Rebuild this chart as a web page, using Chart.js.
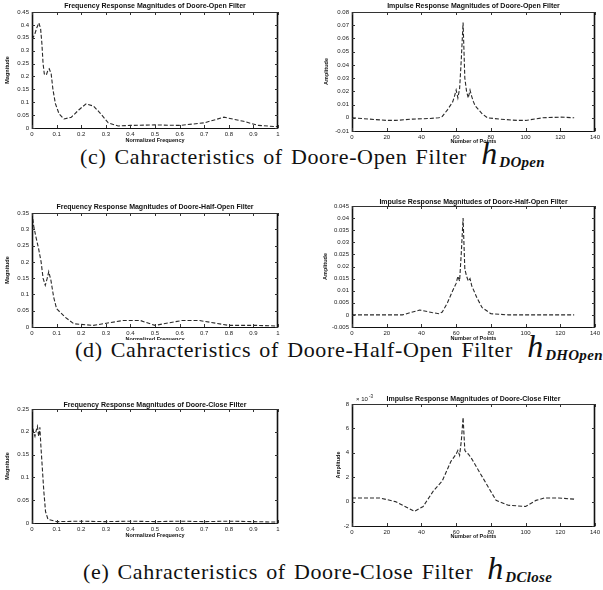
<!DOCTYPE html>
<html><head><meta charset="utf-8">
<script src="https://cdn.jsdelivr.net/npm/chart.js@4"></script>
<style>
body{margin:0;background:#fff;width:603px;height:590px;position:relative;overflow:hidden}
canvas{position:absolute}
.cap{position:absolute;font-family:"Liberation Serif",serif;font-size:22px;letter-spacing:0.65px;word-spacing:2px;color:#111;white-space:nowrap;line-height:24px;height:24px}
.cap .h{font-style:italic;font-size:32px;margin-left:6px;line-height:0;letter-spacing:0}
.cap .s{font-style:italic;font-weight:bold;font-size:15px;position:relative;top:3px;margin-left:2px;line-height:0;letter-spacing:0.3px}
</style></head><body>
<div class="cap" id="capC" style="left:80px;top:145px">(c) Cahracteristics of Doore-Open Filter <span class="h">h</span><span class="s">DOpen</span></div>
<div class="cap" id="capD" style="left:75px;top:338px">(d) Cahracteristics of Doore-Half-Open Filter <span class="h">h</span><span class="s">DHOpen</span></div>
<div class="cap" id="capE" style="left:83px;top:560px">(e) Cahracteristics of Doore-Close Filter <span class="h">h</span><span class="s">DClose</span></div>
<script>
// ---------- data ----------
// (c) Doore-Open : frequency response magnitude
const freqC = [0,0.01,0.02,0.028,0.035,0.04,0.045,0.05,0.058,0.065,0.07,0.078,0.085,0.095,0.11,0.13,0.16,0.19,0.22,0.25,0.275,0.31,0.35,0.4,0.5,0.6,0.7,0.78,0.86,0.92,1.0];
const magC  = [0.345,0.36,0.39,0.408,0.385,0.33,0.25,0.21,0.205,0.225,0.23,0.21,0.15,0.095,0.055,0.035,0.042,0.07,0.094,0.085,0.06,0.02,0.008,0.01,0.012,0.01,0.02,0.042,0.026,0.01,0.005];
// (c) impulse response
const idxC = [0,10,20,25,35,45,50,52,55,58,59,60,61,62,63,64,65,66,67,68,69,70,71,73,75,78,85,95,100,110,120,128];
const ampC = [0,-0.001,-0.002,-0.002,-0.001,-0.0005,0,0.001,0.006,0.012,0.016,0.021,0.015,0.022,0.045,0.072,0.03,0.02,0.015,0.021,0.016,0.012,0.009,0.006,0.003,0,-0.001,-0.002,-0.002,0,0.0005,0];
// (d) Doore-Half-Open
const freqD = [0,0.007,0.015,0.027,0.037,0.045,0.054,0.062,0.068,0.077,0.088,0.1,0.135,0.17,0.25,0.37,0.44,0.5,0.61,0.68,0.8,0.91,1.0];
const magD  = [0.35,0.31,0.28,0.24,0.2,0.15,0.128,0.15,0.17,0.143,0.092,0.056,0.03,0.01,0.005,0.02,0.02,0.005,0.02,0.02,0.005,0.005,0.003];
const idxD = [0,10,17,29,39,46,50,52,55,58,60,61,62,63,64,65,66,67,68,69,72,75,80,90,100,113,128];
const ampD = [0,0,0,0,0.002,0.001,0.0005,0.0012,0.005,0.01,0.013,0.016,0.014,0.026,0.04,0.019,0.016,0.014,0.015,0.012,0.007,0.003,0.0005,0,0,0,0];
// (e) Doore-Close
const freqE = [0,0.006,0.012,0.018,0.022,0.027,0.032,0.036,0.042,0.048,0.055,0.065,0.1,0.2,0.3,0.4,0.5,0.6,0.7,0.8,0.9,1.0];
const magE  = [0.22,0.2,0.19,0.205,0.212,0.19,0.21,0.17,0.12,0.07,0.025,0.008,0.003,0.004,0.003,0.004,0.003,0.004,0.003,0.004,0.003,0.002];
const idxE = [0,8,16,25,36,41,47,52,57,60,61,62,63,64,65,66,67,69,76,83,90,100,106,111,119,128];
const ampE = [0.3,0.3,0.3,0,-0.8,-0.4,0.9,1.7,3.3,3.9,4.2,3.8,5.0,6.9,4.2,4.0,3.9,3.5,1.8,0.1,-0.3,-0.4,0.1,0.3,0.3,0.2]; // x 10^-3
// axis ranges [min,max,step]
const freqAxis = [0,1,0.1];
const pointAxis = [0,140,20];
const yAxisC = [0,0.45,0.05], yAxisCi = [-0.01,0.08,0.01];
const yAxisD = [0,0.35,0.05], yAxisDi = [-0.005,0.045,0.005];
const yAxisE = [0,0.25,0.05], yAxisEi = [-2,8,2];
const titles = ['Frequency Response Magnitudes of Doore-Open Filter','Impulse Response Magnitudes of Doore-Open Filter',
  'Frequency Response Magnitudes of Doore-Half-Open Filter','Impulse Response Magnitudes of Doore-Half-Open Filter',
  'Frequency Response Magnitudes of Doore-Close Filter','Impulse Response Magnitudes of Doore-Close Filter'];

const fmt = v => String(+(+v).toFixed(4));
const FONT = '"Liberation Sans", Arial, sans-serif';

const frame = {
  id:'frame',
  afterDraw(chart, args, o){
    const {ctx, chartArea:a, scales:{x,y}} = chart;
    const ln=(x1,y1,x2,y2)=>{ctx.beginPath();ctx.moveTo(x1,y1);ctx.lineTo(x2,y2);ctx.stroke();};
    ctx.save();
    ctx.strokeStyle='#333'; ctx.lineWidth=1;
    ctx.strokeRect(a.left+0.5,a.top+0.5,a.right-a.left-1,a.bottom-a.top);
    ctx.strokeStyle='#111'; ctx.lineWidth=1.6;
    ln(a.left+0.5,a.top,a.left+0.5,a.bottom+1);
    ln(a.right-0.5,a.top,a.right-0.5,a.bottom+1);
    ctx.lineWidth=1.2; ln(a.left,a.bottom+0.5,a.right,a.bottom+0.5);
    ctx.lineWidth=1; ctx.strokeStyle='#333';
    x.ticks.forEach(t=>{const p=Math.round(x.getPixelForValue(t.value))+0.5; ln(p,a.bottom,p,a.bottom-3); ln(p,a.top,p,a.top+3);});
    y.ticks.forEach(t=>{const p=Math.round(y.getPixelForValue(t.value))+0.5; ln(a.left,p,a.left+3,p); ln(a.right,p,a.right-3,p);});
    ctx.fillStyle='#111'; ctx.textAlign='center'; ctx.textBaseline='middle';
    ctx.font='bold 7px '+FONT;
    ctx.fillText(o.title,(a.left+a.right)/2,a.top-o.tdy);
    ctx.font='bold 5.5px '+FONT;
    ctx.fillText(o.xl,(a.left+a.right)/2,a.bottom+o.xdy);
    ctx.save(); ctx.translate(o.ylx,(a.top+a.bottom)/2); ctx.rotate(-Math.PI/2);
    ctx.fillText(o.yl,0,0); ctx.restore();
    if(o.exp){ ctx.font='6px '+FONT; ctx.textAlign='left';
      ctx.fillText('\u00d7 10',a.left+4,a.top-5); ctx.font='4.5px '+FONT; ctx.fillText('-3',a.left+17,a.top-7); }
    ctx.restore();
  }
};

function make(o){
  const c=document.createElement('canvas');
  c.width=o.w; c.height=o.h;
  c.style.left=o.left+'px'; c.style.top=o.top+'px';
  c.style.width=o.w+'px'; c.style.height=o.h+'px';
  document.body.appendChild(c);
  const axis=(r,extra)=>Object.assign({type:'linear',min:r[0],max:r[1],
    ticks:{stepSize:r[2],font:{size:6,family:FONT},color:'#222',padding:3,callback:fmt,maxRotation:0,autoSkip:false},
    grid:{display:false,drawTicks:false},border:{display:false}},extra);
  new Chart(c,{
    type:'line',
    data:{datasets:[{data:o.xs.map((v,i)=>({x:v,y:o.ys[i]})),borderColor:'#2a2a2a',borderWidth:1.1,borderDash:[4,2],pointRadius:0,tension:0}]},
    options:{responsive:false,animation:false,devicePixelRatio:1,
      layout:{padding:{left:0,top:o.a[1],right:o.w-o.a[2],bottom:0}},
      plugins:{legend:{display:false},tooltip:{enabled:false},
        frame:{title:o.title,tdy:o.tdy,xl:o.xl,xdy:o.xdy,yl:o.yl,ylx:o.ylx,exp:o.exp}},
      scales:{
        x:axis(o.xr,{afterFit(s){s.height=o.h-o.a[3];}}),
        y:axis(o.yr,{afterFit(s){s.width=o.a[0];}})
      }},
    plugins:[frame]
  });
}

make({left:0,top:0,w:300,h:150,a:[32,12,278,128],xs:freqC,ys:magC,xr:freqAxis,yr:yAxisC,title:titles[0],tdy:6,xl:'Normalized Frequency',xdy:12,yl:'Magnitude',ylx:7});
make({left:300,top:0,w:303,h:150,a:[52,12,298,131],xs:idxC,ys:ampC,xr:pointAxis,yr:yAxisCi,title:titles[1],tdy:6,xl:'Number of Points',xdy:10,yl:'Amplitude',ylx:26});
make({left:0,top:195,w:300,h:145,a:[32,18,278,132],xs:freqD,ys:magD,xr:freqAxis,yr:yAxisD,title:titles[2],tdy:6,xl:'Normalized Frequency',xdy:12,yl:'Magnitude',ylx:7});
make({left:300,top:195,w:303,h:145,a:[52,11,298,132],xs:idxD,ys:ampD,xr:pointAxis,yr:yAxisDi,title:titles[3],tdy:4,xl:'Number of Points',xdy:11,yl:'Amplitude',ylx:25});
make({left:0,top:392,w:300,h:150,a:[32,17,278,131],xs:freqE,ys:magE,xr:freqAxis,yr:yAxisE,title:titles[4],tdy:4,xl:'Normalized Frequency',xdy:12,yl:'Magnitude',ylx:7});
make({left:300,top:392,w:303,h:150,a:[52,12,298,134],xs:idxE,ys:ampE,xr:pointAxis,yr:yAxisEi,title:titles[5],tdy:5,xl:'Number of Points',xdy:10,yl:'Amplitude',ylx:38,exp:true});
</script>
</body></html>
